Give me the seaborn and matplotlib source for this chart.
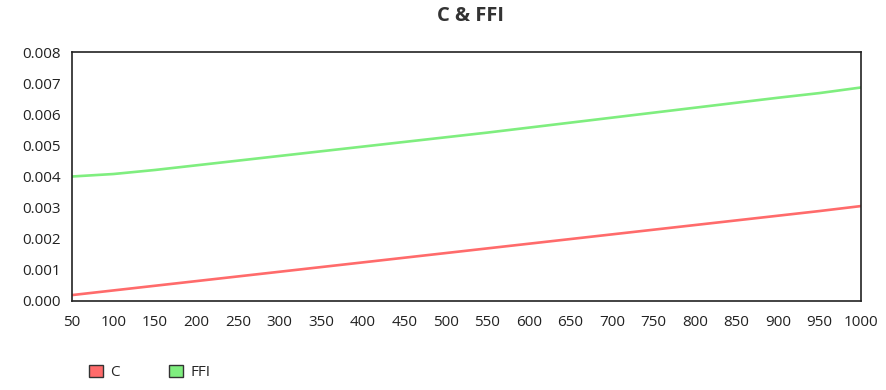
import numpy as np
import pandas as pd
import seaborn as sns
import matplotlib.pyplot as plt
from matplotlib.patches import Patch

sns.set_theme(style="white")
plt.rcParams['font.family'] = ['Open Sans', 'DejaVu Sans']

x_values = [50, 100, 150, 200, 250, 300, 350, 400, 450, 500,
            550, 600, 650, 700, 750, 800, 850, 900, 950, 1000]
c_values = [0.00019, 0.00034, 0.00049, 0.00064, 0.00079, 0.00094, 0.00109, 0.00124, 0.00139, 0.00154,
            0.00169, 0.00184, 0.00199, 0.00214, 0.00229, 0.00244, 0.00259, 0.00274, 0.00289, 0.00305]
ffi_values = [0.00400, 0.00408, 0.00421, 0.00436, 0.00451, 0.00466, 0.00481, 0.00496, 0.00511, 0.00526,
              0.00541, 0.00557, 0.00573, 0.00589, 0.00605, 0.00621, 0.00637, 0.00653, 0.00668, 0.00686]
series_names = ["C", "FFI"]
series_colors = ["#ff6b6b", "#7fee7f"]

df = pd.DataFrame({"x": x_values * 2,
                   "value": c_values + ffi_values,
                   "series": ["C"] * len(x_values) + ["FFI"] * len(x_values)})

fig = plt.figure(figsize=(8.87, 3.90), dpi=100)
ax = fig.add_axes([72 / 887, 1 - 301 / 390, (861 - 72) / 887, (301 - 52) / 390])

sns.lineplot(data=df, x="x", y="value", hue="series", hue_order=series_names,
             palette=series_colors, linewidth=1.9, legend=False, ax=ax)

ax.set_xlim(50, 1000)
ax.set_ylim(0, 0.008)
ax.set_xticks(x_values)
ax.set_xticklabels([str(v) for v in x_values])
ax.set_yticks(np.arange(0, 0.0081, 0.001))
ax.set_yticklabels([f"{v:.3f}" for v in np.arange(0, 0.0081, 0.001)])
ax.tick_params(length=0, labelsize=11, colors="#222222")
ax.tick_params(axis="x", pad=10)
ax.tick_params(axis="y", pad=8)
ax.set_xlabel("")
ax.set_ylabel("")
for s in ax.spines.values():
    s.set_color("#222222")
    s.set_linewidth(1.2)

fig.suptitle("C & FFI", x=0.53, y=0.985, fontsize=14.5, fontweight="bold", color="#333333")

handles = [Patch(facecolor=c, edgecolor="#333333", linewidth=1) for c in series_colors]
fig.legend(handles, series_names, loc="lower left", bbox_to_anchor=(0.085, -0.01),
           ncol=2, frameon=False, fontsize=11, handlelength=0.9, handleheight=0.9,
           handletextpad=0.5, columnspacing=3.2)

fig.savefig("out.png", dpi=100)
